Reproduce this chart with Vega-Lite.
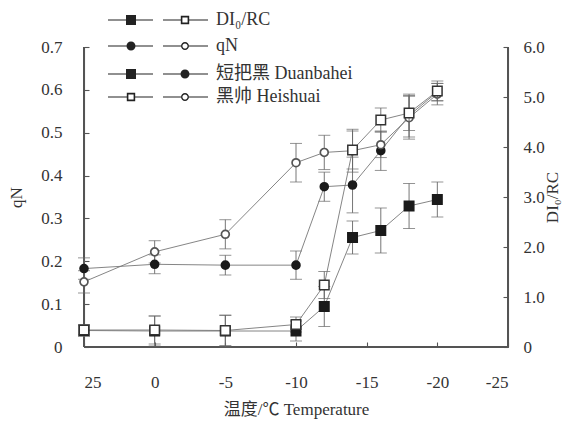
{
  "$schema": "https://vega.github.io/schema/vega-lite/v6.json",
  "width": 424,
  "height": 300,
  "autosize": "none",
  "padding": {"left": 84, "top": 47, "right": 66, "bottom": 77},
  "background": "white",
  "config": {
    "view": {"stroke": null},
    "font": "'Liberation Serif', 'Noto Sans CJK SC'",
    "axis": {
      "grid": false,
      "domainColor": "#555555",
      "tickColor": "#555555",
      "labelColor": "#333",
      "titleColor": "#333",
      "labelFont": "'Liberation Serif', 'Noto Sans CJK SC'",
      "titleFont": "'Liberation Serif', 'Noto Sans CJK SC'",
      "labelFontSize": 17,
      "titleFontSize": 17,
      "titleFontWeight": "normal",
      "tickSize": -5,
      "domainWidth": 1.1,
      "tickWidth": 1.1
    },
    "legend": {
      "orient": "none",
      "title": null,
      "padding": 0,
      "labelFont": "'Liberation Serif', 'Noto Sans CJK SC'",
      "labelFontSize": 18,
      "labelColor": "#333",
      "labelOffset": 48,
      "symbolSize": 400,
      "symbolOpacity": 1,
      "symbolFillColor": "#222",
      "symbolStrokeWidth": 0
    }
  },
  "data": {
    "values": [
      {"temp": 25, "measure": "DI₀/RC", "cultivar": "短把黑 Duanbahei", "value": 0.33, "err": 0.12},
      {"temp": 0, "measure": "DI₀/RC", "cultivar": "短把黑 Duanbahei", "value": 0.32, "err": 0.30},
      {"temp": -5, "measure": "DI₀/RC", "cultivar": "短把黑 Duanbahei", "value": 0.32, "err": 0.32},
      {"temp": -10, "measure": "DI₀/RC", "cultivar": "短把黑 Duanbahei", "value": 0.32, "err": 0.20},
      {"temp": -12, "measure": "DI₀/RC", "cultivar": "短把黑 Duanbahei", "value": 0.81, "err": 0.40},
      {"temp": -14, "measure": "DI₀/RC", "cultivar": "短把黑 Duanbahei", "value": 2.19, "err": 0.33},
      {"temp": -16, "measure": "DI₀/RC", "cultivar": "短把黑 Duanbahei", "value": 2.33, "err": 0.45},
      {"temp": -18, "measure": "DI₀/RC", "cultivar": "短把黑 Duanbahei", "value": 2.82, "err": 0.45},
      {"temp": -20, "measure": "DI₀/RC", "cultivar": "短把黑 Duanbahei", "value": 2.95, "err": 0.35},
      {"temp": 25, "measure": "DI₀/RC", "cultivar": "黑帅 Heishuai", "value": 0.34, "err": 0.10},
      {"temp": 0, "measure": "DI₀/RC", "cultivar": "黑帅 Heishuai", "value": 0.34, "err": 0.28},
      {"temp": -5, "measure": "DI₀/RC", "cultivar": "黑帅 Heishuai", "value": 0.33, "err": 0.30},
      {"temp": -10, "measure": "DI₀/RC", "cultivar": "黑帅 Heishuai", "value": 0.45, "err": 0.15},
      {"temp": -12, "measure": "DI₀/RC", "cultivar": "黑帅 Heishuai", "value": 1.24, "err": 0.27},
      {"temp": -14, "measure": "DI₀/RC", "cultivar": "黑帅 Heishuai", "value": 3.94, "err": 0.38},
      {"temp": -16, "measure": "DI₀/RC", "cultivar": "黑帅 Heishuai", "value": 4.54, "err": 0.24},
      {"temp": -18, "measure": "DI₀/RC", "cultivar": "黑帅 Heishuai", "value": 4.68, "err": 0.35},
      {"temp": -20, "measure": "DI₀/RC", "cultivar": "黑帅 Heishuai", "value": 5.12, "err": 0.20},
      {"temp": 25, "measure": "qN", "cultivar": "短把黑 Duanbahei", "value": 0.183, "err": 0.025},
      {"temp": 0, "measure": "qN", "cultivar": "短把黑 Duanbahei", "value": 0.193, "err": 0.022},
      {"temp": -5, "measure": "qN", "cultivar": "短把黑 Duanbahei", "value": 0.191, "err": 0.023},
      {"temp": -10, "measure": "qN", "cultivar": "短把黑 Duanbahei", "value": 0.191, "err": 0.033},
      {"temp": -12, "measure": "qN", "cultivar": "短把黑 Duanbahei", "value": 0.374, "err": 0.034},
      {"temp": -14, "measure": "qN", "cultivar": "短把黑 Duanbahei", "value": 0.378, "err": 0.065},
      {"temp": -16, "measure": "qN", "cultivar": "短把黑 Duanbahei", "value": 0.458, "err": 0.046},
      {"temp": -18, "measure": "qN", "cultivar": "短把黑 Duanbahei", "value": 0.540, "err": 0.050},
      {"temp": -20, "measure": "qN", "cultivar": "短把黑 Duanbahei", "value": 0.595, "err": 0.020},
      {"temp": 25, "measure": "qN", "cultivar": "黑帅 Heishuai", "value": 0.152, "err": 0.026},
      {"temp": 0, "measure": "qN", "cultivar": "黑帅 Heishuai", "value": 0.222, "err": 0.026},
      {"temp": -5, "measure": "qN", "cultivar": "黑帅 Heishuai", "value": 0.263, "err": 0.034},
      {"temp": -10, "measure": "qN", "cultivar": "黑帅 Heishuai", "value": 0.430, "err": 0.045},
      {"temp": -12, "measure": "qN", "cultivar": "黑帅 Heishuai", "value": 0.454, "err": 0.040},
      {"temp": -14, "measure": "qN", "cultivar": "黑帅 Heishuai", "value": 0.458, "err": 0.050},
      {"temp": -16, "measure": "qN", "cultivar": "黑帅 Heishuai", "value": 0.472, "err": 0.030},
      {"temp": -18, "measure": "qN", "cultivar": "黑帅 Heishuai", "value": 0.535, "err": 0.050},
      {"temp": -20, "measure": "qN", "cultivar": "黑帅 Heishuai", "value": 0.590, "err": 0.025}
    ]
  },
  "encoding": {
    "x": {
      "field": "temp",
      "type": "quantitative",
      "scale": {"domain": [25, 0, -25], "range": [0, 70.67, 424], "nice": false, "zero": false},
      "axis": {
        "values": [25, 0, -5, -10, -15, -20, -25],
        "labelExpr": "'' + datum.value",
        "title": "温度/℃ Temperature",
        "labelPadding": 32,
        "titlePadding": 11
      }
    }
  },
  "layer": [
    {
      "transform": [{"filter": "datum.measure === 'qN'"}],
      "encoding": {
        "y": {
          "field": "value",
          "type": "quantitative",
          "scale": {"domain": [0, 0.7], "nice": false},
          "axis": {
            "orient": "left",
            "values": [0, 0.1, 0.2, 0.3, 0.4, 0.5, 0.6, 0.7],
            "format": ".1f",
            "labelExpr": "datum.value === 0 ? '0' : datum.label",
            "title": "qN",
            "labelPadding": 27,
            "titlePadding": 15
          }
        }
      },
      "layer": [
        {
          "mark": {"type": "tick", "orient": "horizontal", "size": 424, "thickness": 1, "color": "#555", "opacity": 1},
          "encoding": {"x": {"datum": -10}, "y": {"datum": 0}}
        },
        {
          "mark": {"type": "tick", "orient": "vertical", "size": 300, "thickness": 1, "color": "#555", "opacity": 1},
          "encoding": {"x": {"datum": 25}, "y": {"datum": 0.35}}
        },
        {
          "mark": {"type": "errorbar", "ticks": {"size": 12, "color": "#666", "thickness": 1}, "rule": {"stroke": "#666", "strokeWidth": 0.9}},
          "encoding": {"yError": {"field": "err"}, "detail": {"field": "cultivar"}}
        },
        {
          "mark": {"type": "line", "color": "#777", "strokeWidth": 0.9},
          "encoding": {"detail": {"field": "cultivar"}}
        },
        {
          "mark": {"type": "point", "shape": "circle", "size": 62, "opacity": 1, "strokeWidth": 1.7},
          "encoding": {
            "fill": {"condition": {"test": "datum.cultivar === '短把黑 Duanbahei'", "value": "#1a1a1a"}, "value": "white"},
            "stroke": {"condition": {"test": "datum.cultivar === '短把黑 Duanbahei'", "value": "#1a1a1a"}, "value": "#555"}
          }
        }
      ]
    },
    {
      "transform": [{"filter": "datum.measure === 'DI₀/RC'"}],
      "encoding": {
        "y": {
          "field": "value",
          "type": "quantitative",
          "scale": {"domain": [0, 6], "nice": false},
          "axis": {
            "orient": "right",
            "values": [0, 1, 2, 3, 4, 5, 6],
            "format": ".1f",
            "labelExpr": "datum.value === 0 ? '0' : datum.label",
            "title": "DI₀/RC",
            "titleAngle": -90,
            "labelPadding": 20,
            "titlePadding": 17
          }
        }
      },
      "layer": [
        {
          "mark": {"type": "tick", "orient": "vertical", "size": 300, "thickness": 1, "color": "#555", "opacity": 1},
          "encoding": {"x": {"datum": -25}, "y": {"datum": 3}}
        },
        {
          "mark": {"type": "errorbar", "ticks": {"size": 12, "color": "#666", "thickness": 1}, "rule": {"stroke": "#666", "strokeWidth": 0.9}},
          "encoding": {"yError": {"field": "err"}, "detail": {"field": "cultivar"}}
        },
        {
          "mark": {"type": "line", "color": "#777", "strokeWidth": 0.9},
          "encoding": {"detail": {"field": "cultivar"}}
        },
        {
          "mark": {"type": "point", "shape": "square", "size": 90, "opacity": 1, "strokeWidth": 1.5},
          "encoding": {
            "fill": {"condition": {"test": "datum.cultivar === '短把黑 Duanbahei'", "value": "#1a1a1a"}, "value": "white"},
            "stroke": {"condition": {"test": "datum.cultivar === '短把黑 Duanbahei'", "value": "#1a1a1a"}, "value": "#333"}
          }
        }
      ]
    },
    {
      "mark": {"type": "point", "filled": true, "color": "#222", "opacity": 0},
      "encoding": {
        "shape": {
          "field": "measure",
          "type": "nominal",
          "scale": {
            "domain": ["DI₀/RC", "qN"],
            "range": [
              "M-5,-0.06H-0.5V0.06H-5Z M-3.2,-0.5H-2.2V0.5H-3.2Z M0.5,-0.06H2.28V0.06H0.5Z M3.12,-0.06H5V0.06H3.12Z M2.28,-0.42H3.12V0.42H2.28Z M2.44,-0.26V0.26H2.96V-0.26Z",
              "M-5,-0.06H-0.5V0.06H-5Z M-3.15,0A0.45,0.45 0 1,1 -2.25,0A0.45,0.45 0 1,1 -3.15,0Z M0.5,-0.06H2.3V0.06H0.5Z M3.1,-0.06H5V0.06H3.1Z M2.3,0A0.4,0.4 0 1,1 3.1,0A0.4,0.4 0 1,1 2.3,0Z M2.44,0A0.26,0.26 0 1,0 2.96,0A0.26,0.26 0 1,0 2.44,0Z"
            ]
          },
          "legend": {"legendX": 64, "legendY": -37, "symbolOpacity": 1, "rowPadding": 7}
        }
      }
    },
    {
      "mark": {"type": "point", "filled": true, "color": "#222", "opacity": 0},
      "encoding": {
        "shape": {
          "field": "cultivar",
          "type": "nominal",
          "scale": {
            "domain": ["短把黑 Duanbahei", "黑帅 Heishuai"],
            "range": [
              "M-5,-0.06H-0.5V0.06H-5Z M-3.2,-0.5H-2.2V0.5H-3.2Z M0.5,-0.06H5V0.06H0.5Z M2.25,0A0.45,0.45 0 1,1 3.15,0A0.45,0.45 0 1,1 2.25,0Z",
              "M-5,-0.06H-3.12V0.06H-5Z M-2.28,-0.06H-0.5V0.06H-2.28Z M-3.12,-0.42H-2.28V0.42H-3.12Z M-2.96,-0.26V0.26H-2.44V-0.26Z M0.5,-0.06H2.3V0.06H0.5Z M3.1,-0.06H5V0.06H3.1Z M2.3,0A0.4,0.4 0 1,1 3.1,0A0.4,0.4 0 1,1 2.3,0Z M2.44,0A0.26,0.26 0 1,0 2.96,0A0.26,0.26 0 1,0 2.44,0Z"
            ]
          },
          "legend": {"legendX": 64, "legendY": 17, "symbolOpacity": 1, "rowPadding": 4}
        }
      }
    }
  ],
  "resolve": {"scale": {"y": "independent", "shape": "independent"}}
}
